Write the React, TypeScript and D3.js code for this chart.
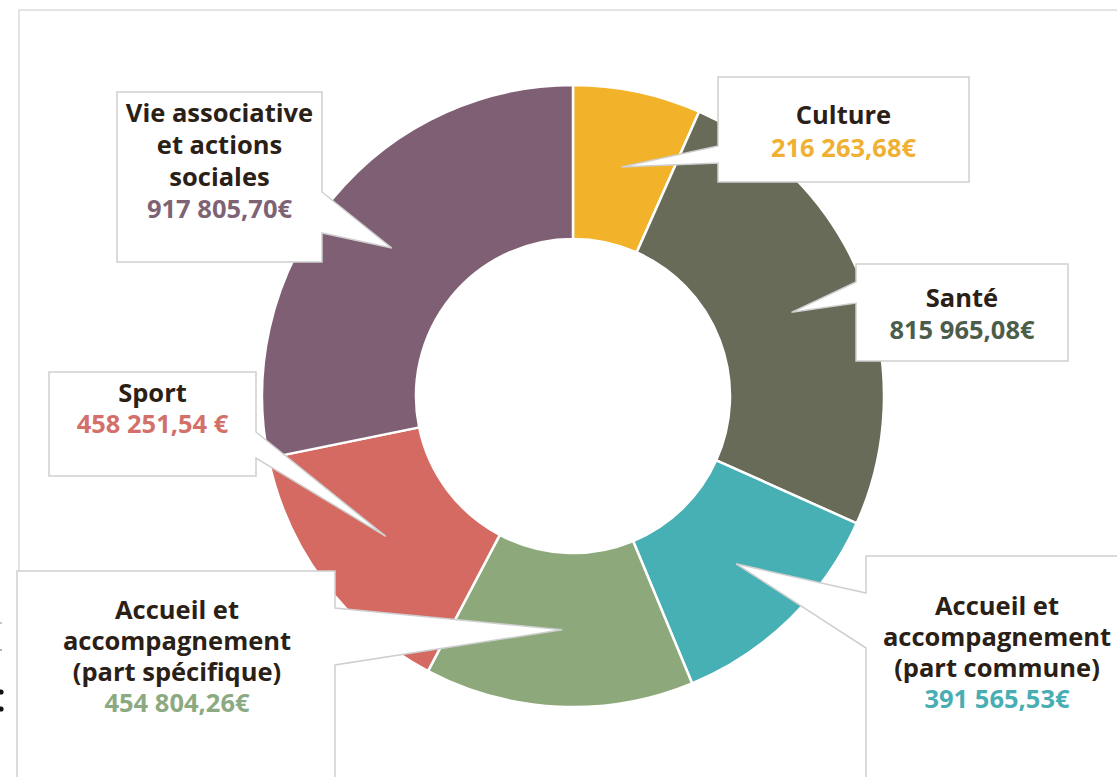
import React from "react";
import * as d3 from "d3";

// ---- data ----
const categories = [
  "Culture",
  "Santé",
  "Accueil et accompagnement (part commune)",
  "Accueil et accompagnement (part spécifique)",
  "Sport",
  "Vie associative et actions sociales",
];
const values = [216263.68, 815965.08, 391565.53, 454804.26, 458251.54, 917805.7];
const valueLabels = [
  "216 263,68€",
  "815 965,08€",
  "391 565,53€",
  "454 804,26€",
  "458 251,54 €",
  "917 805,70€",
];
const titleLines = [
  ["Culture"],
  ["Santé"],
  ["Accueil et", "accompagnement", "(part commune)"],
  ["Accueil et", "accompagnement", "(part spécifique)"],
  ["Sport"],
  ["Vie associative", "et actions", "sociales"],
];
const sliceColors = ["#F2B229", "#676B58", "#47B0B5", "#8DA97B", "#D46A62", "#7E5F73"];
const valueColors = ["#EFB033", "#4C5D4B", "#48AEB4", "#8CAA81", "#D3706A", "#7E6374"];

// ---- layout (positions of callout boxes) ----
type Box = { x0: number; y0: number; x1: number; y1: number; side: "left" | "right"; b0: number; b1: number; baseline: number; lh: number };
const boxes: Box[] = [
  { x0: 718, y0: 77, x1: 969, y1: 182, side: "left", b0: 146, b1: 163, baseline: 124, lh: 33 },
  { x0: 856, y0: 264, x1: 1068, y1: 361, side: "left", b0: 282, b1: 303, baseline: 307, lh: 32 },
  { x0: 866, y0: 556, x1: 1140, y1: 800, side: "left", b0: 593, b1: 648, baseline: 615, lh: 31 },
  { x0: 17, y0: 571, x1: 335, y1: 800, side: "right", b0: 608, b1: 665, baseline: 619, lh: 31 },
  { x0: 49, y0: 372, x1: 256, y1: 476, side: "right", b0: 432, b1: 458, baseline: 402, lh: 31 },
  { x0: 117, y0: 92, x1: 322, y1: 262, side: "right", b0: 192, b1: 233, baseline: 122, lh: 32 },
];
const textCenters = [843.5, 962, 997, 177, 152.5, 219.5];

const W = 1117;
const H = 777;
const cx = 573;
const cy = 396;
const outerR = 311;
const innerR = 157;

function calloutPath(b: Box, tip: [number, number]) {
  const [tx, ty] = tip;
  if (b.side === "left") {
    return `M${b.x0},${b.y0} L${b.x1},${b.y0} L${b.x1},${b.y1} L${b.x0},${b.y1} L${b.x0},${b.b1} L${tx},${ty} L${b.x0},${b.b0} Z`;
  }
  return `M${b.x0},${b.y0} L${b.x1},${b.y0} L${b.x1},${b.b0} L${tx},${ty} L${b.x1},${b.b1} L${b.x1},${b.y1} L${b.x0},${b.y1} Z`;
}

export default function App() {
  const pie = d3.pie<number>().sort(null).value((d) => d);
  const arcs = pie(values);
  const arc = d3.arc<d3.PieArcDatum<number>>().innerRadius(innerR).outerRadius(outerR);
  const font = "'Open Sans', 'Lato', sans-serif";

  return (
    <div style={{ position: "absolute", left: 0, top: 0 }}>
      <svg width={W} height={H} style={{ display: "block", background: "#fff" }}>
        <rect x={19} y={10} width={W} height={H} fill="#fff" stroke="#dcdcdc" strokeWidth={1.5} />
        {/* clipped marks from neighbouring content at left edge */}
        <line x1={0} y1={623} x2={2} y2={623} stroke="#888" strokeWidth={1} />
        <line x1={0} y1={650} x2={2} y2={650} stroke="#666" strokeWidth={1.2} />
        <circle cx={1} cy={692} r={2.6} fill="#111" />
        <circle cx={1} cy={709} r={2.6} fill="#111" />
        <g transform={`translate(${cx},${cy})`}>
          {arcs.map((a, i) => (
            <path key={categories[i]} d={arc(a) || ""} fill={sliceColors[i]} stroke="#fff" strokeWidth={2.5} />
          ))}
        </g>
        {arcs.map((a, i) => {
          const c = arc.centroid(a);
          const tip: [number, number] = [cx + c[0], cy + c[1]];
          const b = boxes[i];
          const lines = titleLines[i];
          return (
            <g key={"c" + i}>
              <path d={calloutPath(b, tip)} fill="#fff" stroke="#cfcfcf" strokeWidth={1.5} strokeLinejoin="miter" />
              <text textAnchor="middle" fontFamily={font} fontWeight={700} fontSize={25.5}>
                {lines.map((l, j) => (
                  <tspan key={j} x={textCenters[i]} y={b.baseline + j * b.lh} fill="#2A2016">
                    {l}
                  </tspan>
                ))}
                <tspan x={textCenters[i]} y={b.baseline + lines.length * b.lh} fill={valueColors[i]}>
                  {valueLabels[i]}
                </tspan>
              </text>
            </g>
          );
        })}
      </svg>
    </div>
  );
}
